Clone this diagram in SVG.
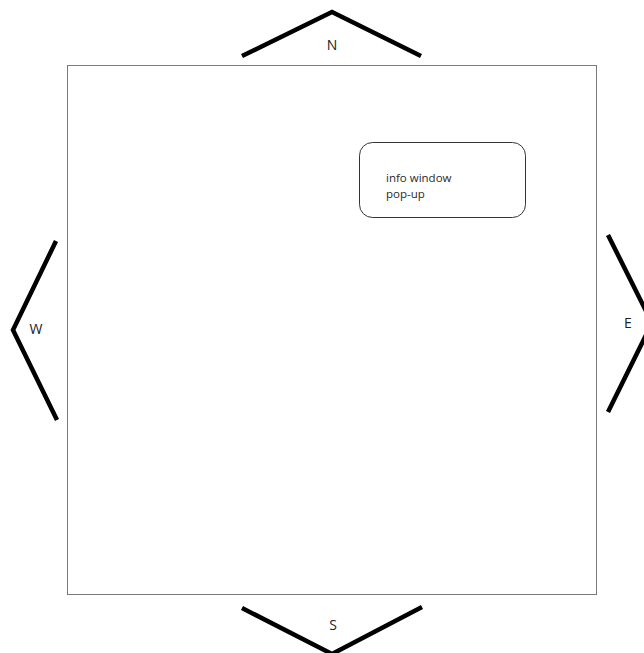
<svg xmlns="http://www.w3.org/2000/svg" width="644" height="653" viewBox="0 0 644 653">
<style>
.chev{fill:none;stroke:#000;stroke-width:4.5;stroke-linejoin:miter}
.lbl{font-family:"Open Sans","Noto Sans",sans-serif;font-size:14px;fill:#222;text-anchor:middle}
.txt{font-family:"Open Sans","Noto Sans",sans-serif;font-size:11.5px;fill:#2a2a2a}
</style>
<rect width="644" height="653" fill="#fff"/>
<g id="map">
<rect x="67.5" y="65.5" width="529" height="529" fill="none" stroke="#7a7a7a" stroke-width="1"/>
</g>
<g id="info">
<rect x="359.5" y="142.5" width="166" height="75" rx="13" fill="none" stroke="#333" stroke-width="1"/>
<text class="txt" x="386" y="182">info window</text>
<text class="txt" x="386" y="198">pop-up</text>
</g>
<g id="connectors">
<g id="north"><polyline class="chev" points="242,56 332,12 421,56"/><text class="lbl" x="332" y="50">N</text></g>
<g id="west"><polyline class="chev" points="56,241 13,330 57,420"/><text class="lbl" x="36" y="334">W</text></g>
<g id="east"><polyline class="chev" points="608,235 652,323 608,412"/><text class="lbl" x="628" y="328">E</text></g>
<g id="south"><polyline class="chev" points="242,608 332,654 422,607"/><text class="lbl" x="333" y="630">S</text></g>
</g>
</svg>
